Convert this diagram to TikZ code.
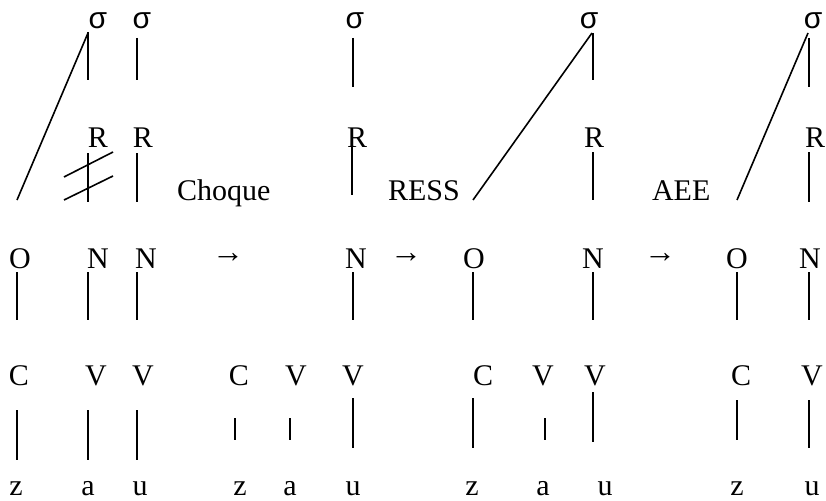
\documentclass[tikz,border=0pt]{standalone}
\usepackage{fontspec}
\setmainfont{Liberation Serif}
\newfontfamily\sigfont{Liberation Sans}
\begin{document}
\begin{tikzpicture}[x=1pt,y=-1pt,
  lab/.style={inner sep=0pt,outer sep=0pt,anchor=base,font=\fontsize{30}{36}\selectfont},
  sig/.style={inner sep=0pt,outer sep=0pt,anchor=base,font=\fontsize{30}{36}\sigfont},
  txt/.style={inner sep=0pt,outer sep=0pt,anchor=base west,font=\fontsize{30}{36}\selectfont},
  arr/.style={inner sep=0pt,outer sep=0pt,anchor=center,font=\fontsize{32}{36}\selectfont},
  edge/.style={line width=1.6pt},
  short/.style={line width=1.2pt}]
\useasboundingbox (0,0) rectangle (826,500);
% ---------- group 1 ----------
\node[sig] (s1) at (98,29) {σ};
\node[sig] (s2) at (142,29) {σ};
\node[lab] (r1) at (98,147) {R};
\node[lab] (r2) at (143,147) {R};
\node[lab] (o1) at (20,268) {O};
\node[lab] (n1) at (98,268) {N};
\node[lab] (n2) at (146,268) {N};
\node[lab] (c1) at (19,385) {C};
\node[lab] (v1) at (96,385) {V};
\node[lab] (v2) at (143,385) {V};
\node[lab] (z1) at (16,495) {z};
\node[lab] (a1) at (88,495) {a};
\node[lab] (u1) at (140,495) {u};
\draw[edge] (88,32) -- (88,80);
\draw[edge] (137,38) -- (137,80);
\draw[edge] (88,33) -- (17,200);
\draw[edge] (88,153) -- (88,202);
\draw[edge] (137,153) -- (137,202);
\draw[edge] (64,177) -- (113,152);
\draw[edge] (64,200) -- (113,176);
\draw[edge] (17,272) -- (17,320);
\draw[edge] (88,272) -- (88,320);
\draw[edge] (137,272) -- (137,320);
\draw[edge] (17,410) -- (17,460);
\draw[edge] (88,410) -- (88,460);
\draw[edge] (137,410) -- (137,460);
\node[txt] (choque) at (177,200) {Choque};
\node[arr] (ar1) at (228,258) {→};
% ---------- group 2 ----------
\node[sig] (s3) at (355,29) {σ};
\node[lab] (r3) at (357,147) {R};
\node[lab] (n3) at (356,268) {N};
\node[lab] (c2) at (239,385) {C};
\node[lab] (v3) at (296,385) {V};
\node[lab] (v4) at (353,385) {V};
\node[lab] (z2) at (240,495) {z};
\node[lab] (a2) at (290,495) {a};
\node[lab] (u2) at (353,495) {u};
\draw[edge] (353,38) -- (353,87);
\draw[edge] (352,147) -- (352,195);
\draw[edge] (353,272) -- (353,320);
\draw[short] (235,418) -- (235,440);
\draw[short] (290,418) -- (290,440);
\draw[edge] (353,398) -- (353,448);
\node[arr] (ar2) at (406,258) {→};
\node[txt] (ress) at (388,200) {RESS};
% ---------- group 3 ----------
\node[sig] (s4) at (589,29) {σ};
\node[lab] (r4) at (594,147) {R};
\node[lab] (o3) at (474,268) {O};
\node[lab] (n4) at (593,268) {N};
\node[lab] (c3) at (483,385) {C};
\node[lab] (v5) at (543,385) {V};
\node[lab] (v6) at (595,385) {V};
\node[lab] (z3) at (472,495) {z};
\node[lab] (a3) at (543,495) {a};
\node[lab] (u3) at (605,495) {u};
\draw[edge] (593,33) -- (593,80);
\draw[edge] (592,33) -- (473,200);
\draw[edge] (593,152) -- (593,200);
\draw[edge] (473,272) -- (473,320);
\draw[edge] (593,272) -- (593,320);
\draw[edge] (473,398) -- (473,448);
\draw[short] (545,418) -- (545,440);
\draw[edge] (593,392) -- (593,442);
\node[arr] (ar3) at (660,258) {→};
\node[txt] (aee) at (652,200) {AEE};
% ---------- group 4 ----------
\node[sig] (s5) at (813,29) {σ};
\node[lab] (r5) at (815,147) {R};
\node[lab] (o4) at (737,268) {O};
\node[lab] (n5) at (810,268) {N};
\node[lab] (c4) at (741,385) {C};
\node[lab] (v7) at (812,385) {V};
\node[lab] (z4) at (737,495) {z};
\node[lab] (u4) at (812,495) {u};
\draw[edge] (809,38) -- (809,87);
\draw[edge] (808,33) -- (737,200);
\draw[edge] (809,152) -- (809,202);
\draw[edge] (737,272) -- (737,320);
\draw[edge] (809,272) -- (809,320);
\draw[edge] (737,400) -- (737,440);
\draw[edge] (809,400) -- (809,448);
\end{tikzpicture}
\end{document}
